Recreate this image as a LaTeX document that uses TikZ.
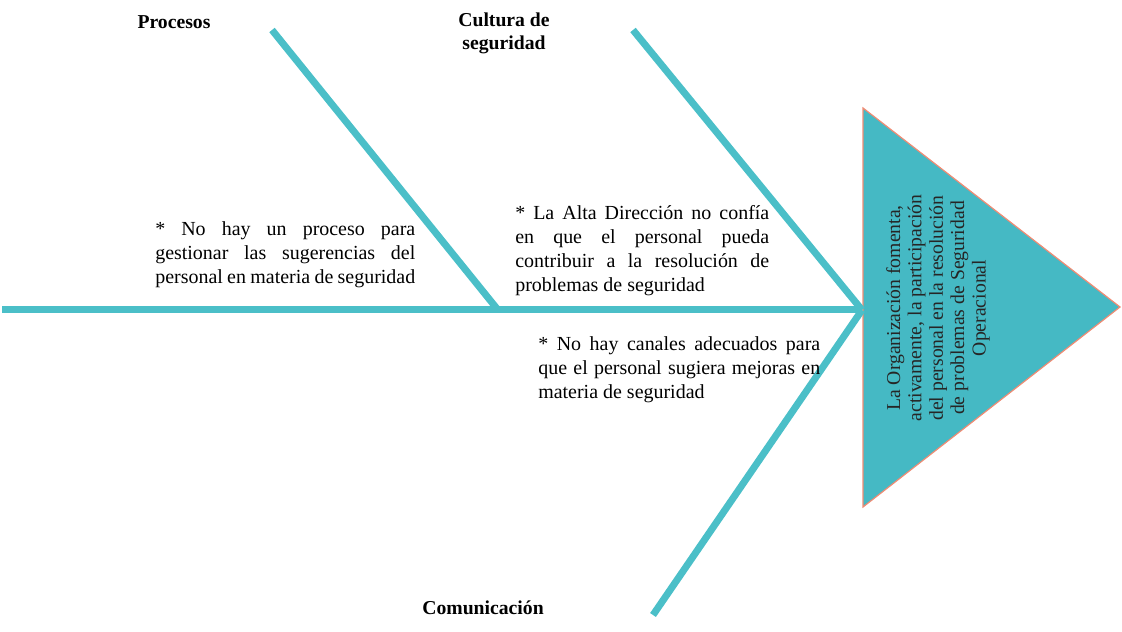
\documentclass[tikz,border=0pt]{standalone}
\usepackage{fontspec}
\setmainfont{Liberation Serif}
\usetikzlibrary{positioning}
\definecolor{bonecol}{HTML}{4BBFC8}
\definecolor{headfill}{HTML}{45B9C4}
\definecolor{headline}{HTML}{F08C74}
\hyphenpenalty=10000
\exhyphenpenalty=10000

\begin{document}
\begin{tikzpicture}[x=0.25mm, y=-0.25mm,
    bone/.style={draw=bonecol, line width=1.75mm},
    cause/.style={inner sep=0pt, anchor=north west, align=justify,
                  font=\fontsize{14.2}{17.2}\selectfont},
    cat/.style={inner sep=0pt, align=center,
                font=\bfseries\fontsize{14}{16.5}\selectfont}
]
\useasboundingbox (0,0) rectangle (1122,632);

% cabeza del diagrama
\coordinate (tail) at (2,310);
\coordinate (head) at (862,310);
\filldraw[fill=headfill, draw=headline, line width=0.3mm]
    (863,108) -- (1120,307) -- (863,507) -- cycle;
\node[rotate=90, align=center, text=black!85, inner sep=0pt,
      font=\fontsize{14}{15.2}\selectfont] (goal) at (938,308)
    {La Organización fomenta,\\activamente, la participación\\del personal en la resolución\\de problemas de Seguridad\\Operacional};

% espinas
\coordinate (j1) at (498,310);
\coordinate (p1) at (272,30);
\coordinate (c1) at (633,30);
\coordinate (m1) at (653,615);
\draw[bone] (tail) -- (head);
\draw[bone] (p1) -- (j1);
\draw[bone] (c1) -- (head);
\draw[bone] (m1) -- (head);

% categorias
\node[cat] (proc) at (174,22) {Procesos};
\node[cat] (cult) at (504,33) {Cultura de\\seguridad};
\node[cat] (comu) at (483,608) {Comunicación};

% causas
\node[cause, text width=65mm] (cproc) at (155,221)
    {* No hay un proceso para\linebreak gestionar las sugerencias del\linebreak personal en materia de seguridad};
\node[cause, text width=63.5mm] (ccult) at (515,205)
    {* La Alta Dirección no confía\linebreak en que el personal pueda\linebreak contribuir a la resolución de\linebreak problemas de seguridad};
\node[cause, text width=70.5mm] (ccomu) at (538,336)
    {* No hay canales adecuados para\linebreak que el personal sugiera mejoras en\linebreak materia de seguridad};
\end{tikzpicture}
\end{document}
